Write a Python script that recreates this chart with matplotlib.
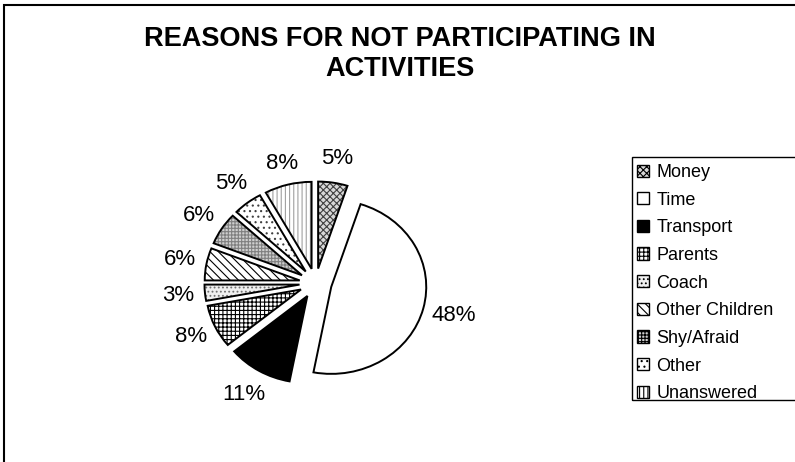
import matplotlib

matplotlib.use("Agg")
import matplotlib.pyplot as plt
from matplotlib.patches import Patch, Rectangle, Wedge

plt.rcParams["font.family"] = ["Liberation Sans", "DejaVu Sans"]
plt.rcParams["hatch.linewidth"] = 0.8

TITLE = "REASONS FOR NOT PARTICIPATING IN\nACTIVITIES"
CATEGORIES = ["Money", "Time", "Transport", "Parents", "Coach",
              "Other Children", "Shy/Afraid", "Other", "Unanswered"]
PERCENTS = [5, 48, 11, 8, 3, 6, 6, 5, 8]

# face colour, hatch pattern, hatch colour for each slice (greyscale Excel fills)
FILLS = [
    ("#d8d8d8", "xxxxx", "#404040"),
    ("white", None, "black"),
    ("black", None, "black"),
    ("white", "++++", "black"),
    ("#f0f0f0", "....", "#707070"),
    ("white", "\\\\\\\\", "black"),
    ("#cfcfcf", "+++++", "#808080"),
    ("white", "...", "#404040"),
    ("white", "||||", "#a0a0a0"),
]

W, H = 795, 462
fig = plt.figure(figsize=(W / 100, H / 100), dpi=100)

# outer chart frame (right and bottom edges fall outside the picture)
fig.patches.append(Rectangle((4 / W, -0.1), 1.2, 1.1 - 5.5 / H, transform=fig.transFigure,
                             fill=False, edgecolor="black", linewidth=1.5))

fig.text(400 / W, 1 - 54 / H, TITLE, ha="center", va="center", fontsize=19.5,
         fontweight="bold", linespacing=1.15)

# pie axes: ellipse centre (315.6, 283.2) px, radii 95 x 87 px
cx, cy, rx, ry = 315.6, 283.2, 95, 87
ax = fig.add_axes([(cx - 1.25 * rx) / W, 1 - (cy + 1.25 * ry) / H, 2.5 * rx / W, 2.5 * ry / H])

explode = [0.17] * len(PERCENTS)
wedges, texts = ax.pie(
    PERCENTS,
    labels=[f"{p}%" for p in PERCENTS],
    explode=explode,
    startangle=90,
    counterclock=False,
    labeldistance=1.28,
    textprops={"fontsize": 16, "ha": "center", "va": "center"},
    wedgeprops={"linewidth": 0},
)
ax.set_aspect("auto")
ax.set_xlim(-1.25, 1.25)
ax.set_ylim(-1.25, 1.25)

for w, (face, hatch, hcol) in zip(wedges, FILLS):
    w.set_facecolor(face)
    w.set_edgecolor(hcol)
    if hatch:
        w.set_hatch(hatch)
    ax.add_patch(Wedge(w.center, w.r, w.theta1, w.theta2, fill=False,
                       edgecolor="black", linewidth=1.4, joinstyle="miter"))

# small radial tweaks so labels sit where Excel put them
label_scale = [1.0, 1.04, 1.03, 1.0, 1.0, 1.0, 1.0, 1.0, 0.98]
for t, w, s in zip(texts, wedges, label_scale):
    x, y = t.get_position()
    ox, oy = w.center
    t.set_position((ox + (x - ox) * s, oy + (y - oy) * s))

# legend
fig.patches.append(Rectangle((632 / W, 1 - 400 / H), 0.3, (400 - 157) / H,
                             transform=fig.transFigure, fill=False,
                             edgecolor="black", linewidth=1.0))
handles = [Patch(facecolor=f, hatch=h, edgecolor="black", linewidth=1.0, label=c)
           for c, (f, h, _) in zip(CATEGORIES, FILLS)]
fig.legend(handles=handles, loc="upper left", bbox_to_anchor=(637 / W, 1 - 164 / H),
           frameon=False, fontsize=13, borderpad=0, borderaxespad=0,
           handlelength=0.67, handleheight=0.67, handletextpad=0.39,
           labelspacing=0.59)

fig.savefig("out.png", dpi=100)
